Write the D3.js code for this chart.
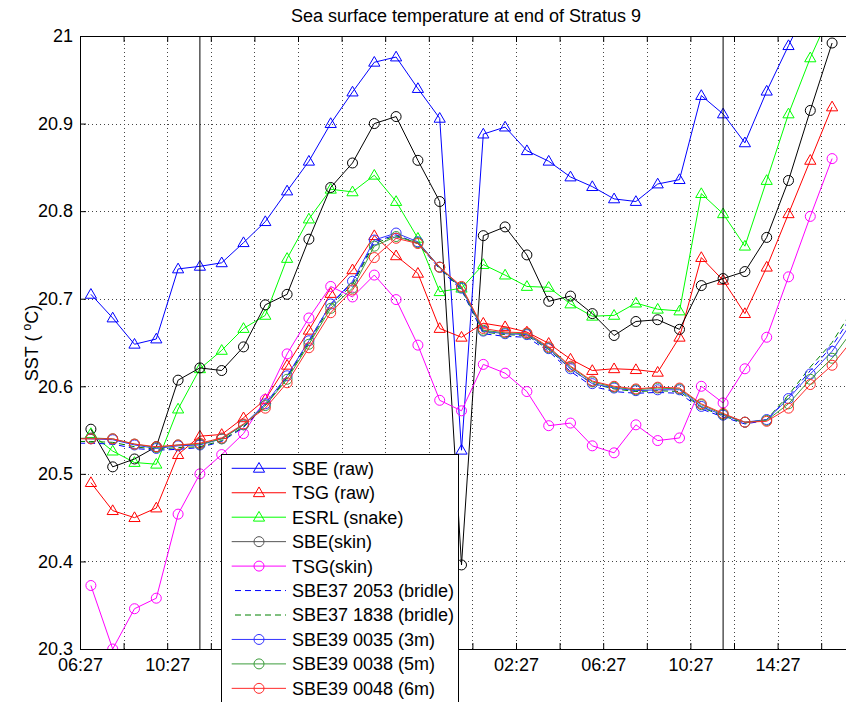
<!DOCTYPE html>
<html>
<head>
<meta charset="utf-8">
<script src="https://cdn.jsdelivr.net/npm/d3@7"></script>
<style>
  html, body { margin: 0; padding: 0; background: #fff; }
  svg { display: block; font-family: "Liberation Sans", Arial, Helvetica, sans-serif; }
</style>
</head>
<body>
<svg id="chart" width="846" height="702"></svg>
<script>
// ---- Data (hours after 06:27 on the first day) ----
const times = [-0.5, 0.5, 1.5, 2.5, 3.5, 4.5, 5.5, 6.5, 7.5, 8.5, 9.5, 10.5, 11.5, 12.5, 13.5, 14.5,
  15.5, 16.5, 17.5, 18.5, 19.5, 20.5, 21.5, 22.5, 23.5, 24.5, 25.5, 26.5, 27.5, 28.5, 29.5, 30.5,
  31.5, 32.5, 33.5, 34.5, 35.5];

const tickHours = [0, 2, 4, 6, 8, 10, 12, 14, 16, 18, 20, 22, 24, 26, 28, 30, 32, 34, 36];
const tickLabels = ["06:27", "", "10:27", "", "14:27", "", "18:27", "", "22:27", "", "02:27", "",
  "06:27", "", "10:27", "", "14:27", "", ""];
const yTicks = [20.3, 20.4, 20.5, 20.6, 20.7, 20.8, 20.9, 21];
const yTickLabels = ["20.3", "20.4", "20.5", "20.6", "20.7", "20.8", "20.9", "21"];
const eventHours = [5.5, 29.5];

const sbeRaw = [null, 20.705, 20.678, 20.648, 20.654, 20.734, 20.737, 20.741, 20.764, 20.788, 20.823,
  20.857, 20.900, 20.936, 20.970, 20.976, 20.940, 20.906, 20.527, 20.888, 20.896, 20.869, 20.857,
  20.839, 20.828, 20.814, 20.811, 20.831, 20.836, 20.932, 20.911, 20.878, 20.937, 20.989, 21.040,
  21.095, null];
const tsgRaw = [null, 20.490, 20.458, 20.450, 20.461, 20.522, 20.543, 20.545, 20.564, 20.585, 20.624,
  20.664, 20.706, 20.733, 20.772, 20.749, 20.729, 20.666, 20.656, 20.672, 20.668, 20.662, 20.649,
  20.631, 20.618, 20.620, 20.619, 20.616, 20.656, 20.747, 20.721, 20.683, 20.736, 20.797, 20.858,
  20.919, null];
const esrlSnake = [null, 20.546, 20.526, 20.513, 20.511, 20.574, 20.620, 20.641, 20.666, 20.681, 20.746,
  20.791, 20.825, 20.822, 20.841, 20.811, 20.769, 20.708, 20.712, 20.739, 20.727, 20.714, 20.713,
  20.694, 20.680, 20.681, 20.695, 20.688, 20.686, 20.820, 20.797, 20.760, 20.835, 20.911, 20.975,
  21.030, null];
const sbeSkin = [null, 20.551, 20.508, 20.517, 20.531, 20.607, 20.621, 20.618, 20.645, 20.693, 20.705,
  20.768, 20.827, 20.855, 20.900, 20.908, 20.858, 20.811, 20.396, 20.772, 20.782, 20.750, 20.697,
  20.703, 20.683, 20.658, 20.674, 20.676, 20.665, 20.715, 20.723, 20.731, 20.770, 20.835, 20.915,
  20.992, null];
const tsgSkin = [null, 20.3725, 20.300, 20.346, 20.358, 20.454, 20.500, 20.522, 20.546, 20.585, 20.637,
  20.678, 20.714, 20.702, 20.727, 20.699, 20.647, 20.584, 20.572, 20.625, 20.615, 20.594, 20.555,
  20.558, 20.532, 20.524, 20.556, 20.538, 20.541, 20.600, 20.581, 20.620, 20.656, 20.725, 20.794,
  20.860, null];
const sbe37_2053 = [20.535, 20.535, 20.534, 20.529, 20.527, 20.528, 20.530, 20.537, 20.553, 20.578,
  20.611, 20.652, 20.694, 20.718, 20.765, 20.773, 20.763, 20.734, 20.710, 20.660, 20.657, 20.656,
  20.640, 20.617, 20.600, 20.594, 20.592, 20.593, 20.592, 20.574, 20.565, 20.557, 20.561, 20.588,
  20.618, 20.646, 20.684];
const sbe37_1838 = [20.537, 20.537, 20.536, 20.531, 20.528, 20.530, 20.531, 20.538, 20.554, 20.578,
  20.610, 20.650, 20.692, 20.716, 20.763, 20.772, 20.763, 20.735, 20.711, 20.662, 20.659, 20.658,
  20.642, 20.620, 20.603, 20.597, 20.594, 20.595, 20.594, 20.576, 20.566, 20.558, 20.562, 20.590,
  20.622, 20.650, 20.690];
const sbe39_0035 = [20.541, 20.540, 20.539, 20.533, 20.529, 20.532, 20.533, 20.540, 20.556, 20.580,
  20.612, 20.652, 20.694, 20.720, 20.767, 20.775, 20.765, 20.736, 20.712, 20.663, 20.660, 20.659,
  20.643, 20.620, 20.603, 20.598, 20.595, 20.596, 20.596, 20.577, 20.567, 20.559, 20.562, 20.586,
  20.614, 20.640, 20.677];
const sbe39_0038 = [20.540, 20.541, 20.540, 20.534, 20.530, 20.533, 20.534, 20.540, 20.556, 20.578,
  20.608, 20.648, 20.689, 20.712, 20.760, 20.771, 20.764, 20.736, 20.713, 20.664, 20.661, 20.660,
  20.644, 20.622, 20.605, 20.599, 20.596, 20.598, 20.597, 20.579, 20.568, 20.559, 20.561, 20.580,
  20.608, 20.632, 20.666];
const sbe39_0048 = [20.540, 20.540, 20.540, 20.534, 20.531, 20.533, 20.535, 20.541, 20.557, 20.575,
  20.604, 20.644, 20.684, 20.710, 20.747, 20.769, 20.763, 20.736, 20.714, 20.666, 20.662, 20.661,
  20.645, 20.623, 20.606, 20.600, 20.597, 20.599, 20.598, 20.580, 20.569, 20.559, 20.560, 20.575,
  20.602, 20.624, 20.655];

const seriesNames = ["SBE (raw)", "TSG (raw)", "ESRL (snake)", "SBE(skin)", "TSG(skin)",
  "SBE37 2053 (bridle)", "SBE37 1838 (bridle)", "SBE39 0035 (3m)", "SBE39 0038 (5m)", "SBE39 0048 (6m)"];
const seriesValues = [sbeRaw, tsgRaw, esrlSnake, sbeSkin, tsgSkin, sbe37_2053, sbe37_1838,
  sbe39_0035, sbe39_0038, sbe39_0048];
const seriesColors = ["#0000ff", "#ff0000", "#00ff00", "#000000", "#ff00ff", "#0000ff", "#008000",
  "#3333ff", "#3c9c3c", "#ff2a2a"];
const seriesMarkers = ["tri", "tri", "tri", "circ", "circ", "none", "none", "circ", "circ", "circ"];
const seriesDash = [null, null, null, null, null, "6,4", "6,4", null, null, null];

// ---- Layout ----
const svg = d3.select("#chart");
const W = 846, H = 702;
const pLeft = 80, pTop = 36, pBottom = 649, pRight = 864.8;
const legendBox = { x: 221.5, y: 454.5, w: 237, h: 270 };

svg.append("rect").attr("width", W).attr("height", H).attr("fill", "#fff");

const x = d3.scaleLinear().domain([0, 36]).range([pLeft, pRight]);
const y = d3.scaleLinear().domain([20.3, 21]).range([pBottom, pTop]);

svg.append("defs").append("clipPath").attr("id", "plotclip")
  .append("rect").attr("x", pLeft).attr("y", pTop).attr("width", pRight - pLeft).attr("height", pBottom - pTop);

// Grid
const grid = svg.append("g").attr("stroke", "#444").attr("stroke-width", 1)
  .attr("stroke-dasharray", "1,3").attr("shape-rendering", "crispEdges");
grid.selectAll("line.vx").data(tickHours.filter(h => h > 0 && h < 36)).join("line")
  .attr("x1", d => Math.round(x(d)) + 0.5).attr("x2", d => Math.round(x(d)) + 0.5)
  .attr("y1", pTop).attr("y2", pBottom);
grid.selectAll("line.hy").data(yTicks.filter(v => v > 20.3 && v < 21)).join("line")
  .attr("x1", pLeft).attr("x2", pRight)
  .attr("y1", d => Math.round(y(d)) + 0.5).attr("y2", d => Math.round(y(d)) + 0.5);

// Series
const plot = svg.append("g").attr("clip-path", "url(#plotclip)");
const line = d3.line().defined(d => d.v !== null).x(d => x(d.t)).y(d => y(d.v));
const triPath = "M0,-5.8L5.6,3.9L-5.6,3.9Z";

seriesValues.forEach((vals, i) => {
  const pts = vals.map((v, j) => ({ t: times[j], v: v }));
  const g = plot.append("g");
  g.append("path").datum(pts).attr("d", line).attr("fill", "none")
    .attr("stroke", seriesColors[i]).attr("stroke-width", 1)
    .attr("stroke-dasharray", seriesDash[i]);
  const valid = pts.filter(d => d.v !== null);
  if (seriesMarkers[i] === "tri") {
    g.selectAll("path.m").data(valid).join("path").attr("class", "m")
      .attr("d", triPath).attr("transform", d => `translate(${x(d.t)},${y(d.v)})`)
      .attr("fill", "none").attr("stroke", seriesColors[i]).attr("stroke-width", 1);
  } else if (seriesMarkers[i] === "circ") {
    g.selectAll("circle.m").data(valid).join("circle").attr("class", "m")
      .attr("cx", d => x(d.t)).attr("cy", d => y(d.v)).attr("r", 5)
      .attr("fill", "none").attr("stroke", seriesColors[i]).attr("stroke-width", 1);
  }
});

// Event lines
plot.selectAll("line.ev").data(eventHours).join("line")
  .attr("x1", d => x(d)).attr("x2", d => x(d)).attr("y1", pTop).attr("y2", pBottom)
  .attr("stroke", "#000").attr("stroke-width", 1);

// Axes (labels hidden behind the legend box are not drawn)
const underLegend = h => x(h) > legendBox.x - 25 && x(h) < legendBox.x + legendBox.w + 25;
const fmtX = (d) => underLegend(d) ? "" : tickLabels[tickHours.indexOf(d)];
const xAxis = d3.axisBottom(x).tickValues(tickHours).tickFormat(fmtX).tickSize(-6).tickPadding(9);
const gx = svg.append("g").attr("transform", `translate(0,${pBottom})`).call(xAxis);
const xTop = d3.axisTop(x).tickValues(tickHours).tickFormat("").tickSize(-6);
const gxt = svg.append("g").attr("transform", `translate(0,${pTop})`).call(xTop);
const yAxis = d3.axisLeft(y).tickValues(yTicks).tickFormat((d, i) => yTickLabels[i]).tickSize(-6).tickPadding(7);
const gy = svg.append("g").attr("transform", `translate(${pLeft},0)`).call(yAxis);

[gx, gxt, gy].forEach(g => {
  g.select(".domain").remove();
  g.selectAll(".tick line").attr("stroke", "#000");
  g.selectAll(".tick text").attr("fill", "#000").attr("font-size", 18)
    .attr("font-family", "'Liberation Sans', Arial, sans-serif");
});
svg.append("path")
  .attr("d", `M${pRight},${pTop + 0.5}H${pLeft + 0.5}V${pBottom + 0.5}H${pRight}`)
  .attr("fill", "none").attr("stroke", "#000").attr("stroke-width", 1);

// Title and y label
svg.append("text").attr("x", 466).attr("y", 22).attr("text-anchor", "middle")
  .attr("font-size", 18).text("Sea surface temperature at end of Stratus 9");
const yl = svg.append("text").attr("transform", "translate(38,343) rotate(-90)")
  .attr("text-anchor", "middle").attr("font-size", 18);
yl.append("tspan").text("SST ( ");
yl.append("tspan").attr("font-size", 12).attr("dy", -7).text("o");
yl.append("tspan").attr("dy", 7).text("C)");

// Legend
const lg = svg.append("g");
lg.append("rect").attr("x", legendBox.x).attr("y", legendBox.y).attr("width", legendBox.w).attr("height", legendBox.h)
  .attr("fill", "#fff").attr("stroke", "#000").attr("stroke-width", 1);
seriesNames.forEach((name, i) => {
  const cy = 468.3 + i * 24.45;
  const row = lg.append("g");
  const dashed = seriesDash[i] !== null;
  const legColor = seriesColors[i] === "#000000" ? "#555" : seriesColors[i];
  row.append("line").attr("x1", dashed ? 235 : 231.7).attr("x2", 286).attr("y1", cy).attr("y2", cy)
    .attr("stroke", legColor).attr("stroke-width", 1).attr("stroke-dasharray", seriesDash[i]);
  if (seriesMarkers[i] === "tri") {
    row.append("path").attr("d", triPath).attr("transform", `translate(259,${cy})`)
      .attr("fill", "none").attr("stroke", legColor);
  } else if (seriesMarkers[i] === "circ") {
    row.append("circle").attr("cx", 259).attr("cy", cy).attr("r", 5)
      .attr("fill", "none").attr("stroke", legColor);
  }
  row.append("text").attr("x", 292).attr("y", cy).attr("dy", "0.36em")
    .attr("font-size", 18).text(name);
});
</script>
</body>
</html>
